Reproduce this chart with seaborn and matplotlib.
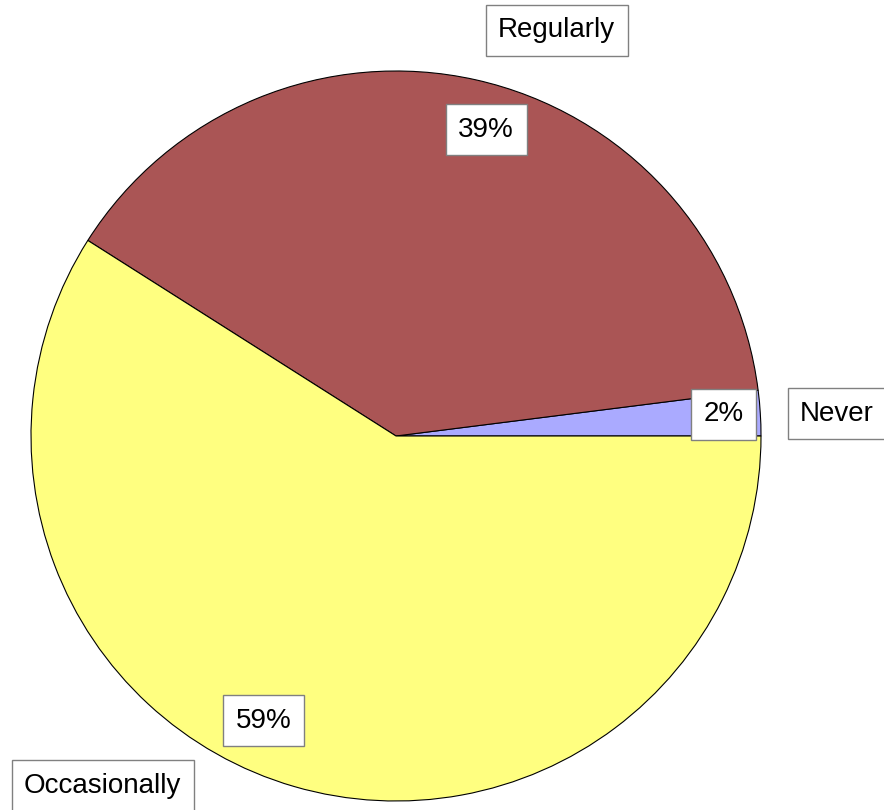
import numpy as np
import seaborn as sns
import matplotlib.pyplot as plt

# survey answers, counter-clockwise from 3 o'clock
categories = ['Never', 'Regularly', 'Occasionally']
shares = [2, 39, 59]
pct_labels = ['2%', '39%', '59%']

sns.set_theme(style='white')
plt.rcParams['font.family'] = ['Liberation Sans', 'DejaVu Sans']

palette = sns.color_palette(['#AAAAFF', '#AA5555', '#FFFF80'])

fig = plt.figure(figsize=(8.84, 8.10), dpi=100)
ax = fig.add_axes([0, 0, 1, 1])

wedges, _ = ax.pie(
    shares, colors=palette, startangle=0, counterclock=True,
    radius=1.0, wedgeprops=dict(edgecolor='black', linewidth=0.8),
)

# pie centre sits at (396, 436) px with a 365 px radius
ax.set_xlim(-396 / 365, (884 - 396) / 365)
ax.set_ylim((436 - 810) / 365, 436 / 365)
ax.set_aspect('auto')
ax.axis('off')

# label placement: (radius, angle in degrees)
pct_pos = [(0.90, 3.8), (0.875, 73.6), (0.86, 245.1)]
cat_pos = [(1.21, 2.9), (1.195, 68.4), (1.25, 230.0)]

box = dict(boxstyle='square,pad=0.45', facecolor='white', edgecolor='#808080', linewidth=1)

for txt, (r, a) in zip(pct_labels, pct_pos):
    t = np.deg2rad(a)
    ax.text(r * np.cos(t), r * np.sin(t), txt, ha='center', va='center',
            fontsize=20, color='black', bbox=box)

for txt, (r, a) in zip(categories, cat_pos):
    t = np.deg2rad(a)
    ax.text(r * np.cos(t), r * np.sin(t), txt, ha='center', va='center',
            fontsize=20, color='black', bbox=box)

fig.savefig('out.png', dpi=100)
